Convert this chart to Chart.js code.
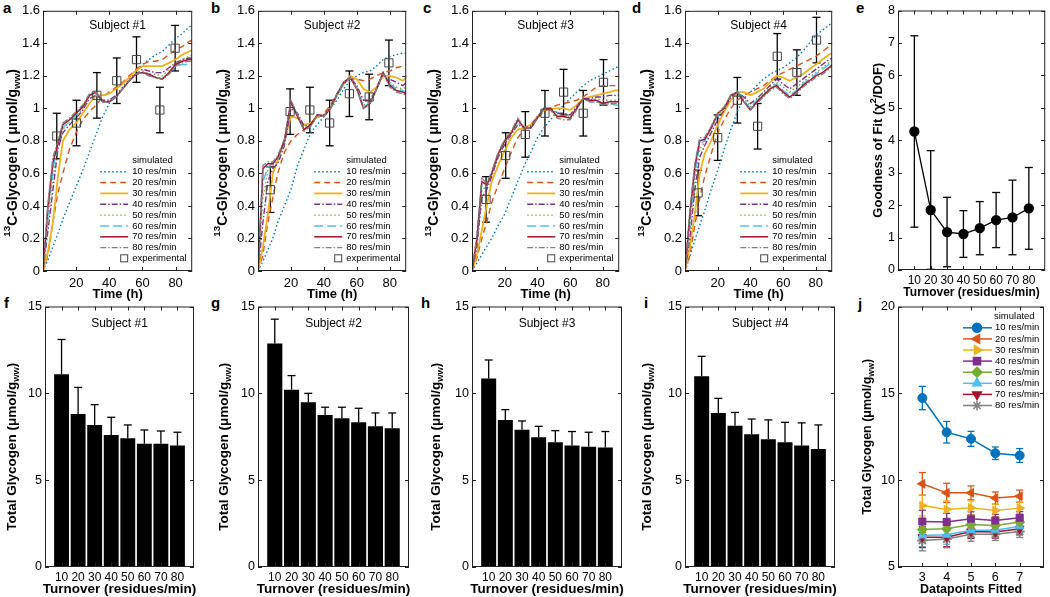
<!DOCTYPE html>
<html>
<head>
<meta charset="utf-8">
<title>Glycogen turnover</title>
<script src="https://cdn.jsdelivr.net/npm/chart.js@4.4.1/dist/chart.umd.min.js"></script>
<style>
  body { margin: 0; width: 1050px; height: 597px; background: #fff; position: relative; overflow: hidden; }
  canvas { position: absolute; }
  .tag { position: absolute; font: bold 15px "Liberation Sans", Arial, sans-serif; line-height: 15px; color: #000; }
</style>
</head>
<body>
<div class="tag" style="left:3px;top:0px">a</div>
<div class="tag" style="left:211px;top:0px">b</div>
<div class="tag" style="left:423px;top:0px">c</div>
<div class="tag" style="left:632px;top:0px">d</div>
<div class="tag" style="left:856px;top:0px">e</div>
<div class="tag" style="left:4px;top:295px">f</div>
<div class="tag" style="left:211px;top:295px">g</div>
<div class="tag" style="left:421px;top:295px">h</div>
<div class="tag" style="left:644px;top:295px">i</div>
<div class="tag" style="left:858px;top:296px">j</div>
<script>
const FONT = '"Liberation Sans", Arial, sans-serif';
Chart.defaults.font.family = FONT;
Chart.defaults.color = '#000';
Chart.defaults.animation = false;

// ---- data ----
const rates = [10, 20, 30, 40, 50, 60, 70, 80];

// time grid of the simulated curves (h)
const timeH = [0, 3, 6, 9, 12, 16, 20, 24, 28, 32, 36, 40, 44, 48, 52, 56, 60, 64, 68, 72, 76, 80, 84, 88, 90];

// Subject #1, simulated 13C-glycogen per turnover rate
const a10 = [0, 0.07, 0.15, 0.23, 0.32, 0.42, 0.52, 0.62, 0.73, 0.84, 0.95, 1.03, 1.08, 1.13, 1.18, 1.23, 1.27, 1.30, 1.33, 1.35, 1.39, 1.43, 1.46, 1.50, 1.51];
const a20 = [0, 0.10, 0.30, 0.48, 0.60, 0.75, 0.85, 0.93, 0.98, 1.02, 1.07, 1.10, 1.13, 1.16, 1.20, 1.24, 1.27, 1.29, 1.29, 1.30, 1.33, 1.36, 1.38, 1.41, 1.42];
const a30 = [0, 0.12, 0.30, 0.58, 0.80, 0.87, 0.91, 0.97, 1.03, 1.08, 1.08, 1.09, 1.12, 1.15, 1.19, 1.23, 1.26, 1.26, 1.26, 1.26, 1.28, 1.30, 1.33, 1.35, 1.36];
const a40 = [0, 0.25, 0.50, 0.75, 0.85, 0.90, 0.94, 0.99, 1.06, 1.08, 1.05, 1.05, 1.08, 1.12, 1.17, 1.21, 1.24, 1.23, 1.22, 1.22, 1.25, 1.28, 1.30, 1.31, 1.31];
const a50 = [0, 0.30, 0.58, 0.78, 0.87, 0.92, 0.95, 1.00, 1.07, 1.09, 1.04, 1.04, 1.07, 1.12, 1.17, 1.21, 1.23, 1.21, 1.21, 1.20, 1.24, 1.28, 1.30, 1.32, 1.33];
const a60 = [0, 0.35, 0.62, 0.79, 0.88, 0.92, 0.96, 1.01, 1.08, 1.09, 1.04, 1.04, 1.07, 1.12, 1.17, 1.21, 1.22, 1.20, 1.19, 1.18, 1.22, 1.26, 1.27, 1.27, 1.27];
const a70 = [0, 0.40, 0.67, 0.78, 0.90, 0.93, 0.97, 1.01, 1.08, 1.10, 1.04, 1.04, 1.07, 1.12, 1.17, 1.21, 1.22, 1.21, 1.19, 1.18, 1.22, 1.27, 1.29, 1.30, 1.30];
const a80 = [0, 0.42, 0.70, 0.80, 0.91, 0.94, 0.98, 1.02, 1.09, 1.10, 1.04, 1.04, 1.07, 1.12, 1.17, 1.21, 1.22, 1.20, 1.19, 1.18, 1.21, 1.26, 1.28, 1.29, 1.29];

// Subject #2
const b10 = [0, 0.06, 0.13, 0.20, 0.30, 0.40, 0.50, 0.65, 0.75, 0.85, 0.90, 0.95, 1.00, 1.05, 1.12, 1.17, 1.20, 1.22, 1.23, 1.26, 1.30, 1.32, 1.33, 1.34, 1.34];
const b20 = [0, 0.10, 0.30, 0.45, 0.60, 0.73, 0.80, 0.84, 0.87, 0.90, 0.94, 0.97, 1.02, 1.09, 1.15, 1.18, 1.18, 1.17, 1.18, 1.20, 1.22, 1.23, 1.25, 1.26, 1.27];
const b30 = [0, 0.15, 0.35, 0.60, 0.68, 0.80, 0.95, 0.94, 0.90, 0.91, 0.95, 0.96, 1.00, 1.08, 1.15, 1.20, 1.18, 1.12, 1.10, 1.13, 1.20, 1.20, 1.19, 1.17, 1.19];
const b40 = [0, 0.30, 0.55, 0.63, 0.66, 0.77, 1.00, 0.97, 0.89, 0.90, 0.96, 0.96, 1.00, 1.08, 1.15, 1.19, 1.14, 1.05, 1.05, 1.12, 1.21, 1.18, 1.16, 1.14, 1.16];
const b50 = [0, 0.45, 0.62, 0.65, 0.68, 0.79, 1.02, 0.96, 0.88, 0.89, 0.96, 0.95, 1.00, 1.08, 1.15, 1.19, 1.13, 1.02, 1.04, 1.12, 1.21, 1.16, 1.13, 1.12, 1.13];
const b60 = [0, 0.55, 0.64, 0.66, 0.69, 0.80, 1.03, 0.95, 0.87, 0.89, 0.96, 0.95, 1.00, 1.08, 1.15, 1.19, 1.12, 1.01, 1.03, 1.12, 1.22, 1.15, 1.12, 1.11, 1.10];
const b70 = [0, 0.63, 0.66, 0.66, 0.70, 0.80, 1.04, 0.95, 0.87, 0.90, 0.96, 0.95, 1.00, 1.09, 1.16, 1.19, 1.12, 1.00, 1.03, 1.12, 1.22, 1.14, 1.11, 1.10, 1.09];
const b80 = [0, 0.65, 0.67, 0.67, 0.71, 0.81, 1.05, 0.96, 0.86, 0.89, 0.96, 0.95, 1.00, 1.09, 1.16, 1.19, 1.12, 1.00, 1.03, 1.12, 1.22, 1.13, 1.10, 1.09, 1.08];

// Subject #3
const c10 = [0, 0.05, 0.10, 0.15, 0.20, 0.28, 0.35, 0.45, 0.55, 0.65, 0.73, 0.82, 0.88, 0.93, 0.98, 1.02, 1.06, 1.10, 1.14, 1.17, 1.19, 1.21, 1.23, 1.25, 1.26];
const c20 = [0, 0.08, 0.20, 0.30, 0.42, 0.53, 0.63, 0.73, 0.82, 0.87, 0.90, 0.94, 0.98, 1.00, 1.02, 1.03, 1.04, 1.05, 1.07, 1.10, 1.13, 1.14, 1.14, 1.14, 1.14];
const c30 = [0, 0.10, 0.25, 0.40, 0.55, 0.65, 0.74, 0.82, 0.87, 0.88, 0.90, 0.95, 0.99, 1.00, 1.00, 1.00, 0.99, 1.02, 1.06, 1.07, 1.08, 1.09, 1.10, 1.11, 1.11];
const c40 = [0, 0.15, 0.45, 0.50, 0.58, 0.70, 0.78, 0.84, 0.90, 0.88, 0.89, 0.95, 1.00, 1.00, 0.97, 0.97, 0.96, 1.01, 1.06, 1.06, 1.07, 1.07, 1.08, 1.08, 1.08];
const c50 = [0, 0.17, 0.50, 0.52, 0.59, 0.71, 0.79, 0.84, 0.91, 0.88, 0.88, 0.94, 1.00, 1.00, 0.96, 0.96, 0.95, 1.00, 1.06, 1.05, 1.06, 1.05, 1.05, 1.05, 1.05];
const c60 = [0, 0.19, 0.53, 0.52, 0.60, 0.72, 0.80, 0.85, 0.92, 0.88, 0.88, 0.94, 1.00, 1.00, 0.95, 0.95, 0.94, 1.00, 1.06, 1.04, 1.04, 1.03, 1.03, 1.02, 1.02];
const c70 = [0, 0.20, 0.55, 0.53, 0.60, 0.72, 0.80, 0.85, 0.93, 0.88, 0.88, 0.94, 1.00, 1.00, 0.95, 0.95, 0.94, 1.00, 1.06, 1.05, 1.05, 1.03, 1.04, 1.04, 1.04];
const c80 = [0, 0.22, 0.57, 0.54, 0.61, 0.73, 0.81, 0.86, 0.94, 0.88, 0.88, 0.94, 1.00, 0.99, 0.94, 0.93, 0.93, 0.99, 1.06, 1.04, 1.04, 1.02, 1.03, 1.03, 1.03];

// Subject #4
const d10 = [0, 0.09, 0.19, 0.28, 0.37, 0.50, 0.62, 0.75, 0.87, 0.98, 1.06, 1.10, 1.14, 1.18, 1.21, 1.23, 1.25, 1.28, 1.31, 1.35, 1.40, 1.45, 1.48, 1.51, 1.53];
const d20 = [0, 0.10, 0.28, 0.45, 0.58, 0.72, 0.85, 0.93, 1.00, 1.05, 1.08, 1.10, 1.12, 1.14, 1.17, 1.20, 1.22, 1.24, 1.26, 1.28, 1.30, 1.32, 1.35, 1.38, 1.39];
const d30 = [0, 0.15, 0.35, 0.60, 0.72, 0.80, 0.90, 0.98, 1.05, 1.10, 1.10, 1.08, 1.10, 1.12, 1.16, 1.20, 1.19, 1.17, 1.19, 1.21, 1.24, 1.27, 1.30, 1.33, 1.34];
const d40 = [0, 0.20, 0.50, 0.70, 0.77, 0.85, 0.93, 0.99, 1.07, 1.10, 1.07, 1.03, 1.06, 1.10, 1.14, 1.18, 1.15, 1.12, 1.15, 1.18, 1.21, 1.24, 1.27, 1.30, 1.31];
const d50 = [0, 0.25, 0.56, 0.75, 0.79, 0.87, 0.95, 1.00, 1.08, 1.10, 1.06, 1.01, 1.05, 1.09, 1.13, 1.16, 1.13, 1.10, 1.13, 1.16, 1.19, 1.22, 1.25, 1.28, 1.29];
const d60 = [0, 0.30, 0.60, 0.78, 0.80, 0.88, 0.96, 1.00, 1.08, 1.11, 1.05, 1.00, 1.05, 1.08, 1.12, 1.15, 1.11, 1.08, 1.11, 1.15, 1.18, 1.21, 1.24, 1.27, 1.28];
const d70 = [0, 0.35, 0.64, 0.80, 0.81, 0.88, 0.97, 1.00, 1.08, 1.10, 1.04, 0.99, 1.04, 1.08, 1.12, 1.14, 1.10, 1.07, 1.10, 1.14, 1.17, 1.20, 1.22, 1.25, 1.27];
const d80 = [0, 0.38, 0.66, 0.82, 0.82, 0.89, 0.97, 1.01, 1.08, 1.10, 1.04, 0.99, 1.03, 1.07, 1.11, 1.13, 1.09, 1.06, 1.09, 1.13, 1.16, 1.19, 1.21, 1.24, 1.26];

// experimental points (time, value, error)
const aExpT = [8.3, 20.2, 32.5, 44.5, 56.4, 70.5, 79.7];
const aExpY = [0.83, 0.91, 1.08, 1.17, 1.30, 0.99, 1.37];
const aExpE = [0.14, 0.14, 0.14, 0.14, 0.14, 0.14, 0.14];
const bExpT = [7.5, 19.5, 31.5, 43.5, 55.5, 67.5, 79.5];
const bExpY = [0.50, 0.98, 0.99, 0.91, 1.09, 1.07, 1.28];
const bExpE = [0.14, 0.14, 0.14, 0.14, 0.14, 0.14, 0.14];
const cExpT = [8.6, 20.6, 32.6, 44.6, 56, 68, 80.4];
const cExpY = [0.44, 0.71, 0.84, 0.97, 1.10, 0.97, 1.16];
const cExpE = [0.14, 0.14, 0.14, 0.14, 0.14, 0.14, 0.14];
const dExpT = [8, 20, 32, 44.4, 56.4, 68.4, 80.4];
const dExpY = [0.48, 0.82, 1.05, 0.89, 1.32, 1.22, 1.42];
const dExpE = [0.14, 0.14, 0.14, 0.14, 0.14, 0.14, 0.14];

// goodness of fit (chi^2/DOF)
const fitY = [4.27, 1.85, 1.17, 1.11, 1.29, 1.54, 1.62, 1.90];
const fitErr = [2.95, 1.83, 1.07, 0.72, 0.82, 0.85, 1.15, 1.26];

// total glycogen per subject (bars) and upper errors
const totF = [11.10, 8.81, 8.18, 7.60, 7.41, 7.09, 7.09, 6.99];
const totFErr = [2.00, 1.53, 1.17, 1.02, 0.77, 0.80, 0.74, 0.77];
const totG = [12.87, 10.21, 9.48, 8.75, 8.56, 8.33, 8.10, 7.99];
const totGErr = [1.40, 0.81, 0.52, 0.45, 0.64, 0.81, 0.77, 0.88];
const totH = [10.86, 8.47, 7.91, 7.47, 7.18, 6.99, 6.93, 6.88];
const totHErr = [1.06, 0.59, 0.50, 0.63, 0.67, 0.81, 0.83, 0.92];
const totI = [10.98, 8.87, 8.14, 7.64, 7.36, 7.18, 6.99, 6.80];
const totIErr = [1.15, 0.84, 0.76, 0.88, 1.11, 1.15, 1.31, 1.38];

// total glycogen vs number of datapoints fitted
const jX = [3, 4, 5, 6, 7];
const j10 = [14.73, 12.76, 12.38, 11.55, 11.42];
const j20 = [9.79, 9.27, 9.27, 8.97, 9.08];
const j30 = [8.54, 8.31, 8.41, 8.26, 8.39];
const j40 = [7.62, 7.59, 7.78, 7.68, 7.84];
const j50 = [7.16, 7.20, 7.45, 7.39, 7.59];
const j60 = [6.82, 6.86, 7.11, 7.11, 7.34];
const j70 = [6.72, 6.72, 7.05, 7.01, 7.20];
const j80 = [6.53, 6.61, 6.88, 6.88, 7.05];
const j10e = [0.67, 0.62, 0.43, 0.36, 0.40];
const j20e = [0.65, 0.55, 0.40, 0.35, 0.35];
const j30e = [0.60, 0.50, 0.40, 0.35, 0.35];
const j40e = [0.65, 0.50, 0.40, 0.35, 0.35];
const j50e = [0.60, 0.50, 0.40, 0.35, 0.35];
const j60e = [0.65, 0.55, 0.40, 0.35, 0.35];
const j70e = [0.60, 0.55, 0.40, 0.35, 0.35];
const j80e = [0.60, 0.50, 0.40, 0.35, 0.35];

// tick labels
const simXTicks = [20, 40, 60, 80];
const simYTicks = [0, 0.2, 0.4, 0.6, 0.8, 1, 1.2, 1.4, 1.6];
const barYTicks = [0, 5, 10, 15];
const fitYTicks = [0, 1, 2, 3, 4, 5, 6, 7, 8];
const jXTicks = [3, 4, 5, 6, 7];
const jYTicks = [5, 10, 15, 20];

// ---- styles ----
const simColors = ['#0072BD', '#D95319', '#EDB120', '#7E2F8E', '#77AC30', '#4DBEEE', '#A2142F', '#808080'];
const simDash = [[1.5, 2.5], [6, 4], [], [6, 2, 1.5, 2], [1.5, 2.5], [9, 4], [], [6, 2, 1.5, 2]];
const simWidth = [1.4, 1.4, 1.8, 1.4, 1.4, 1.4, 1.5, 1.4];
const jMarks = [['circle', 0], ['triangle', -90], ['triangle', 90], ['rect', 0], ['rectRot', 0], ['triangle', 0], ['triangle', 180], ['star', 0]];

const glyTop = [{t: '13', s: 'sup'}, {t: 'C-Glycogen ( \u03bcmol/g'}, {t: 'ww', s: 'sub'}, {t: ')'}];
const glyTot = [{t: 'Total Glycogen (\u03bcmol/g'}, {t: 'ww', s: 'sub'}, {t: ')'}];
const gofTxt = [{t: 'Goodness of Fit (\u03c7'}, {t: '2', s: 'sup'}, {t: '/DOF)'}];

// plot-area rectangles [left, top, width, height]
const boxes = {
  a: [43, 10, 152, 261], b: [258, 10, 151, 261], c: [472, 10, 150, 261], d: [685, 10, 150, 261], e: [898, 10, 149, 260],
  f: [45, 306, 149, 261], g: [258, 306, 151, 261], h: [472, 306, 150, 261], i: [685, 306, 150, 261], j: [898, 306, 149, 261],
};
const L = 52, R = 4, T = 10, B = 32;
const decor = {};

function makeCanvas(id, box) {
  const c = document.createElement('canvas');
  c.id = 'cv_' + id;
  c.width = box[2] + L + R;
  c.height = box[3] + T + B;
  c.style.left = (box[0] - L) + 'px';
  c.style.top = (box[1] - T) + 'px';
  c.style.width = c.width + 'px';
  c.style.height = c.height + 'px';
  document.body.appendChild(c);
  return c;
}

function axis(min, max, ticks, size, pad, isX) {
  return {
    type: 'linear', min, max, offset: false,
    grid: {display: false, drawTicks: false, offset: false},
    border: {display: false},
    afterBuildTicks: s => { s.ticks = ticks.map(v => ({value: v})); },
    afterFit: s => { if (isX) s.height = B; else s.width = L; },
    ticks: {autoSkip: false, maxRotation: 0, minRotation: 0, padding: pad, color: '#000',
      font: {size}, callback: v => String(v)},
  };
}

function baseOptions(x, y) {
  return {
    responsive: false, maintainAspectRatio: false, animation: false, devicePixelRatio: 1,
    layout: {padding: {left: 0, top: T, right: R, bottom: 0}},
    plugins: {legend: {display: false}, tooltip: {enabled: false}},
    scales: {x, y},
  };
}

function line(ctx, x1, y1, x2, y2) {
  ctx.beginPath(); ctx.moveTo(x1, y1); ctx.lineTo(x2, y2); ctx.stroke();
}

function richText(ctx, parts, cx, cy, size, rot) {
  ctx.save();
  ctx.translate(cx, cy);
  if (rot) ctx.rotate(-Math.PI / 2);
  const fnt = p => `bold ${p.s ? size * 0.7 : size}px ${FONT}`;
  let w = 0;
  parts.forEach(p => { ctx.font = fnt(p); w += ctx.measureText(p.t).width; });
  let x = -w / 2;
  ctx.textBaseline = 'middle';
  ctx.textAlign = 'left';
  ctx.fillStyle = '#000';
  parts.forEach(p => {
    ctx.font = fnt(p);
    const dy = p.s === 'sup' ? -size * 0.38 : p.s === 'sub' ? size * 0.3 : 0;
    ctx.fillText(p.t, x, dy);
    x += ctx.measureText(p.t).width;
  });
  ctx.restore();
}

function drawErrors(chart, front) {
  const ctx = chart.ctx, ys = chart.scales.y;
  chart.data.datasets.forEach((ds, i) => {
    if (!ds.err || !!ds.errFront !== front) return;
    const meta = chart.getDatasetMeta(i);
    ctx.save();
    ctx.strokeStyle = ds.errColor || '#000';
    ctx.lineWidth = 1.3;
    meta.data.forEach((el, k) => {
      const v = ds.data[k].y, e = ds.err[k], c = ds.errCap || 4;
      const y1 = ys.getPixelForValue(v + e);
      const y2 = ys.getPixelForValue(front ? v : v - e);
      line(ctx, el.x, y1, el.x, y2);
      line(ctx, el.x - c, y1, el.x + c, y1);
      if (!front) line(ctx, el.x - c, y2, el.x + c, y2);
    });
    ctx.restore();
  });
}

function drawBox(chart) {
  const ctx = chart.ctx, a = chart.chartArea, xs = chart.scales.x, ys = chart.scales.y;
  ctx.save();
  ctx.strokeStyle = '#222';
  ctx.lineWidth = 1;
  ctx.strokeRect(a.left + 0.5, a.top + 0.5, a.right - a.left - 1, a.bottom - a.top - 1);
  xs.ticks.forEach(t => {
    const x = Math.round(xs.getPixelForValue(t.value)) + 0.5;
    line(ctx, x, a.bottom, x, a.bottom - 4);
    line(ctx, x, a.top, x, a.top + 4);
  });
  ys.ticks.forEach(t => {
    const y = Math.round(ys.getPixelForValue(t.value)) + 0.5;
    line(ctx, a.left, y, a.left + 4, y);
    line(ctx, a.right, y, a.right - 4, y);
  });
  ctx.restore();
}

function drawSimLegend(chart) {
  const ctx = chart.ctx, a = chart.chartArea;
  const tx = a.right - 60;
  ctx.save();
  ctx.font = `9.5px ${FONT}`;
  ctx.textBaseline = 'middle';
  ctx.fillStyle = '#000';
  ctx.fillText('simulated', tx, a.bottom - 110.5);
  chart.data.datasets.forEach(ds => {
    if (ds.sim === undefined) return;
    const y = a.bottom - 99.3 + ds.sim * 10.85;
    ctx.save();
    ctx.strokeStyle = ds.borderColor;
    ctx.lineWidth = ds.borderWidth;
    ctx.setLineDash(ds.borderDash);
    line(ctx, a.right - 92, y, a.right - 64, y);
    ctx.restore();
    ctx.fillText(rates[ds.sim] + ' res/min', tx, y);
  });
  const ye = a.bottom - 12.7;
  ctx.strokeStyle = '#444';
  ctx.lineWidth = 1;
  ctx.strokeRect(a.right - 71.5, ye - 3.5, 7, 7);
  ctx.fillText('experimental', tx, ye);
  ctx.restore();
}

function drawJLegend(chart) {
  const ctx = chart.ctx, a = chart.chartArea;
  ctx.save();
  ctx.font = `9.5px ${FONT}`;
  ctx.textBaseline = 'middle';
  ctx.fillStyle = '#000';
  ctx.fillText('simulated', a.right - 50, a.top + 10);
  chart.data.datasets.forEach((ds, k) => {
    const y = a.top + 21.3 + k * 11.1;
    ctx.strokeStyle = ds.borderColor;
    ctx.fillStyle = ds.borderColor;
    ctx.lineWidth = 1.5;
    line(ctx, a.right - 81, y, a.right - 52, y);
    if (Chart.helpers && Chart.helpers.drawPoint) {
      Chart.helpers.drawPoint(ctx, {pointStyle: ds.pointStyle, rotation: ds.pointRotation,
        radius: ds.pointRadius, borderWidth: ds.pointBorderWidth}, a.right - 67, y);
    }
    ctx.fillStyle = '#000';
    ctx.fillText(rates[k] + ' res/min', a.right - 49, y);
  });
  ctx.restore();
}

const decorPlugin = {
  id: 'decor',
  beforeDatasetsDraw(chart) { drawErrors(chart, false); },
  afterDatasetsDraw(chart) { drawErrors(chart, true); },
  afterDraw(chart) {
    const d = decor[chart.canvas.id];
    if (!d) return;
    const ctx = chart.ctx, a = chart.chartArea;
    const cx = (a.left + a.right) / 2, cy = (a.top + a.bottom) / 2;
    drawBox(chart);
    ctx.save();
    ctx.fillStyle = '#000';
    ctx.textAlign = 'center';
    ctx.textBaseline = 'middle';
    if (d.title) {
      ctx.font = `12px ${FONT}`;
      ctx.fillText(d.title, cx, a.top + d.titleDy);
    }
    ctx.font = `bold ${d.xSize}px ${FONT}`;
    ctx.fillText(d.xTitle, cx, a.bottom + d.xDy);
    ctx.restore();
    richText(ctx, d.yTitle, a.left + d.yDx, cy + d.yDy, d.ySize, true);
    if (d.legend === 'sim') drawSimLegend(chart);
    if (d.legend === 'j') drawJLegend(chart);
  },
};
Chart.register(decorPlugin);

// ---- panels ----
function simPanel(id, sims, expT, expY, expE, subject, yDx) {
  const cv = makeCanvas(id, boxes[id]);
  const datasets = sims.map((s, k) => ({
    sim: k,
    data: timeH.map((t, i) => ({x: t, y: s[i]})),
    borderColor: simColors[k], borderDash: simDash[k], borderWidth: simWidth[k],
    pointRadius: 0, tension: 0, fill: false, order: 8 - k,
  }));
  datasets.push({
    data: expT.map((t, i) => ({x: t, y: expY[i]})),
    err: expE, errCap: 4, showLine: false, order: -1,
    pointStyle: 'rect', pointRadius: 5.8, pointBorderWidth: 1,
    pointBorderColor: '#444', pointBackgroundColor: 'rgba(0,0,0,0)',
  });
  decor[cv.id] = {title: subject, titleDy: 15, xTitle: 'Time (h)', xSize: 13, xDy: 23.5,
    yTitle: glyTop, ySize: 14, yDx: yDx, yDy: 12, legend: 'sim'};
  new Chart(cv, {
    type: 'line',
    data: {datasets},
    options: baseOptions(axis(0, 90, simXTicks, 13, 5, true), axis(0, 1.6, simYTicks, 13, 3, false)),
  });
}

function barPanel(id, vals, errs, subject, yDx) {
  const cv = makeCanvas(id, boxes[id]);
  decor[cv.id] = {title: subject, titleDy: 17, xTitle: 'Turnover (residues/min)', xSize: 13.5, xDy: 22,
    yTitle: glyTot, ySize: 13.5, yDx: yDx, yDy: 10};
  new Chart(cv, {
    type: 'bar',
    data: {datasets: [{
      data: rates.map((r, i) => ({x: r, y: vals[i]})),
      err: errs, errFront: true, errCap: 4,
      backgroundColor: '#000', borderWidth: 0,
      barPercentage: 0.9, categoryPercentage: 1,
    }]},
    options: baseOptions(axis(0, 90, rates, 12, 3, true), axis(0, 15, barYTicks, 12.5, 3, false)),
  });
}

function fitPanel() {
  const cv = makeCanvas('e', boxes.e);
  decor[cv.id] = {xTitle: 'Turnover (residues/min)', xSize: 12, xDy: 23,
    yTitle: gofTxt, ySize: 13, yDx: -20, yDy: 0};
  new Chart(cv, {
    type: 'line',
    data: {datasets: [{
      data: rates.map((r, i) => ({x: r, y: fitY[i]})),
      err: fitErr, errCap: 4,
      borderColor: '#000', borderWidth: 1.3, tension: 0,
      pointRadius: 4.5, pointBackgroundColor: '#000', pointBorderColor: '#000',
    }]},
    options: baseOptions(axis(0, 90, rates, 12, 3, true), axis(0, 8, fitYTicks, 12.5, 3, false)),
  });
}

function pointsPanel() {
  const cv = makeCanvas('j', boxes.j);
  const series = [j10, j20, j30, j40, j50, j60, j70, j80];
  const errs = [j10e, j20e, j30e, j40e, j50e, j60e, j70e, j80e];
  decor[cv.id] = {xTitle: 'Datapoints Fitted', xSize: 12.5, xDy: 23,
    yTitle: glyTot, ySize: 12.5, yDx: -30, yDy: 0, legend: 'j'};
  new Chart(cv, {
    type: 'line',
    data: {datasets: series.map((s, k) => ({
      data: jX.map((x, i) => ({x, y: s[i]})),
      err: errs[k], errColor: simColors[k], errCap: 3.5,
      borderColor: simColors[k], backgroundColor: simColors[k], borderWidth: 1.5, tension: 0,
      pointStyle: jMarks[k][0], pointRotation: jMarks[k][1],
      pointRadius: k === 0 ? 4.5 : 5, pointBorderWidth: k === 7 ? 2 : 1,
      pointBackgroundColor: simColors[k], pointBorderColor: simColors[k],
    }))},
    options: baseOptions(axis(2, 8, jXTicks, 12.5, 3, true), axis(5, 20, jYTicks, 12.5, 3, false)),
  });
}

simPanel('a', [a10, a20, a30, a40, a50, a60, a70, a80], aExpT, aExpY, aExpE, 'Subject #1', -30);
simPanel('b', [b10, b20, b30, b40, b50, b60, b70, b80], bExpT, bExpY, bExpE, 'Subject #2', -35);
simPanel('c', [c10, c20, c30, c40, c50, c60, c70, c80], cExpT, cExpY, cExpE, 'Subject #3', -38);
simPanel('d', [d10, d20, d30, d40, d50, d60, d70, d80], dExpT, dExpY, dExpE, 'Subject #4', -38);
fitPanel();
barPanel('f', totF, totFErr, 'Subject #1', -33);
barPanel('g', totG, totGErr, 'Subject #2', -34);
barPanel('h', totH, totHErr, 'Subject #3', -36);
barPanel('i', totI, totIErr, 'Subject #4', -38);
pointsPanel();
</script>
</body>
</html>
